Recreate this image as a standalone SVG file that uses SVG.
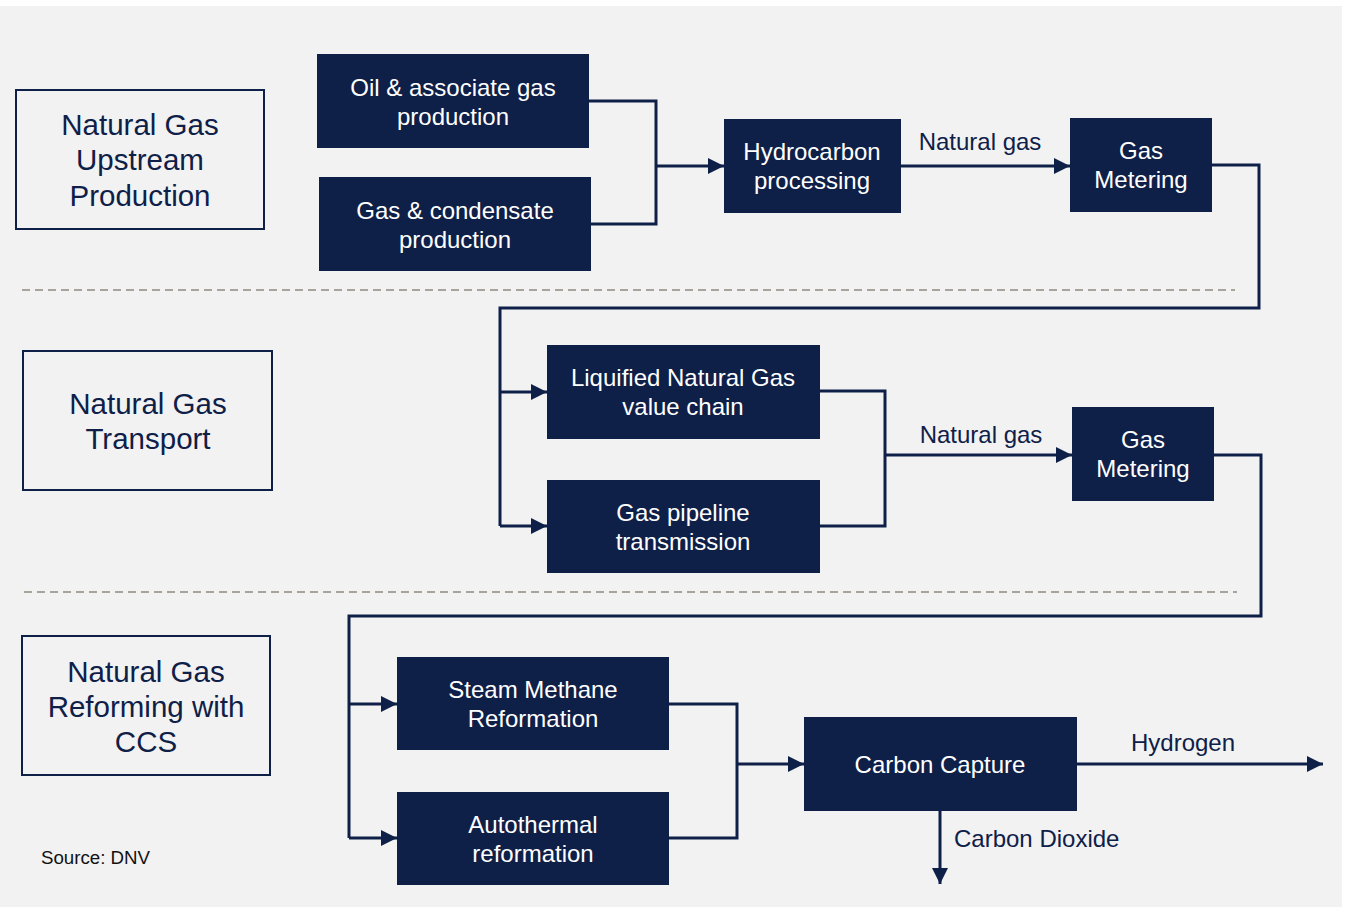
<svg xmlns="http://www.w3.org/2000/svg" width="1350" height="907" viewBox="0 0 1350 907">
  <style>
    .stage { fill: none; stroke: #0f2048; stroke-width: 2; }
    .node rect { fill: #0f2048; }
    .node text { fill: #ffffff; font-family: "Liberation Sans", Arial, sans-serif; font-size: 24px; text-anchor: middle; }
    .stage-label { fill: #0f2048; font-family: "Liberation Sans", Arial, sans-serif; font-size: 29.5px; text-anchor: middle; }
    .edge-label { fill: #0f2048; font-family: "Liberation Sans", Arial, sans-serif; font-size: 24px; }
    .wire { fill: none; stroke: #0f2048; stroke-width: 3; stroke-linejoin: miter; }
    .divider { stroke: #a8a39b; stroke-width: 2; stroke-dasharray: 8 5; }
  </style>
  <defs>
    <marker id="arrow" viewBox="0 0 10 10" refX="10" refY="5" markerWidth="5.5" markerHeight="5.5" markerUnits="strokeWidth" orient="auto">
      <path d="M0,0 L10,5 L0,10 z" fill="#0f2048"/>
    </marker>
  </defs>

  <rect x="0" y="0" width="1350" height="907" fill="#ffffff"/>
  <rect x="0" y="6" width="1342" height="901" fill="#f2f2f2"/>

  <!-- section dividers -->
  <line class="divider" x1="22" y1="290" x2="1235" y2="290"/>
  <line class="divider" x1="24" y1="592" x2="1237" y2="592"/>

  <!-- stage headings -->
  <g id="stage-upstream">
    <rect class="stage" x="16" y="90" width="248" height="139"/>
    <text class="stage-label" x="140" y="135">Natural Gas</text>
    <text class="stage-label" x="140" y="170">Upstream</text>
    <text class="stage-label" x="140" y="206">Production</text>
  </g>
  <g id="stage-transport">
    <rect class="stage" x="23" y="351" width="249" height="139"/>
    <text class="stage-label" x="148" y="414">Natural Gas</text>
    <text class="stage-label" x="148" y="449">Transport</text>
  </g>
  <g id="stage-reforming">
    <rect class="stage" x="22" y="636" width="248" height="139"/>
    <text class="stage-label" x="146" y="682">Natural Gas</text>
    <text class="stage-label" x="146" y="717">Reforming with</text>
    <text class="stage-label" x="146" y="752">CCS</text>
  </g>

  <!-- connectors -->
  <g id="connectors">
    <polyline class="wire" points="589,101 656,101 656,166"/>
    <polyline class="wire" points="591,224 656,224 656,166"/>
    <line class="wire" x1="656" y1="166" x2="724" y2="166" marker-end="url(#arrow)"/>
    <line class="wire" x1="901" y1="166" x2="1070" y2="166" marker-end="url(#arrow)"/>

    <polyline class="wire" points="1212,165 1259,165 1259,308 500,308 500,526"/>
    <line class="wire" x1="500" y1="392" x2="547" y2="392" marker-end="url(#arrow)"/>
    <line class="wire" x1="500" y1="526" x2="547" y2="526" marker-end="url(#arrow)"/>

    <polyline class="wire" points="820,391 885,391 885,526 820,526"/>
    <line class="wire" x1="885" y1="455" x2="1072" y2="455" marker-end="url(#arrow)"/>

    <polyline class="wire" points="1214,455 1261,455 1261,616 349,616 349,838"/>
    <line class="wire" x1="349" y1="704" x2="397" y2="704" marker-end="url(#arrow)"/>
    <line class="wire" x1="349" y1="838" x2="397" y2="838" marker-end="url(#arrow)"/>

    <polyline class="wire" points="669,704 737,704 737,838 669,838"/>
    <line class="wire" x1="737" y1="764" x2="804" y2="764" marker-end="url(#arrow)"/>

    <line class="wire" x1="1077" y1="764" x2="1323" y2="764" marker-end="url(#arrow)"/>
    <line class="wire" x1="940" y1="811" x2="940" y2="884" marker-end="url(#arrow)"/>

    <text class="edge-label" x="980" y="150" text-anchor="middle">Natural gas</text>
    <text class="edge-label" x="981" y="443" text-anchor="middle">Natural gas</text>
    <text class="edge-label" x="1183" y="751" text-anchor="middle">Hydrogen</text>
    <text class="edge-label" x="954" y="847">Carbon Dioxide</text>
  </g>

  <!-- process nodes -->
  <g id="oil-associate-gas" class="node">
    <rect x="317" y="54" width="272" height="94"/>
    <text x="453" y="96">Oil &amp; associate gas</text>
    <text x="453" y="125">production</text>
  </g>
  <g id="gas-condensate" class="node">
    <rect x="319" y="177" width="272" height="94"/>
    <text x="455" y="219">Gas &amp; condensate</text>
    <text x="455" y="248">production</text>
  </g>
  <g id="hydrocarbon-processing" class="node">
    <rect x="724" y="119" width="177" height="94"/>
    <text x="812" y="160">Hydrocarbon</text>
    <text x="812" y="189">processing</text>
  </g>
  <g id="gas-metering-1" class="node">
    <rect x="1070" y="118" width="142" height="94"/>
    <text x="1141" y="159">Gas</text>
    <text x="1141" y="188">Metering</text>
  </g>
  <g id="lng-value-chain" class="node">
    <rect x="547" y="345" width="273" height="94"/>
    <text x="683" y="386">Liquified Natural Gas</text>
    <text x="683" y="415">value chain</text>
  </g>
  <g id="gas-pipeline" class="node">
    <rect x="547" y="480" width="273" height="93"/>
    <text x="683" y="521">Gas pipeline</text>
    <text x="683" y="550">transmission</text>
  </g>
  <g id="gas-metering-2" class="node">
    <rect x="1072" y="407" width="142" height="94"/>
    <text x="1143" y="448">Gas</text>
    <text x="1143" y="477">Metering</text>
  </g>
  <g id="steam-methane" class="node">
    <rect x="397" y="657" width="272" height="93"/>
    <text x="533" y="698">Steam Methane</text>
    <text x="533" y="727">Reformation</text>
  </g>
  <g id="autothermal" class="node">
    <rect x="397" y="792" width="272" height="93"/>
    <text x="533" y="833">Autothermal</text>
    <text x="533" y="862">reformation</text>
  </g>
  <g id="carbon-capture" class="node">
    <rect x="804" y="717" width="273" height="94"/>
    <text x="940" y="773">Carbon Capture</text>
  </g>

  <text x="41" y="864" font-family="Liberation Sans, Arial, sans-serif" font-size="18.7" fill="#111111">Source: DNV</text>
</svg>
